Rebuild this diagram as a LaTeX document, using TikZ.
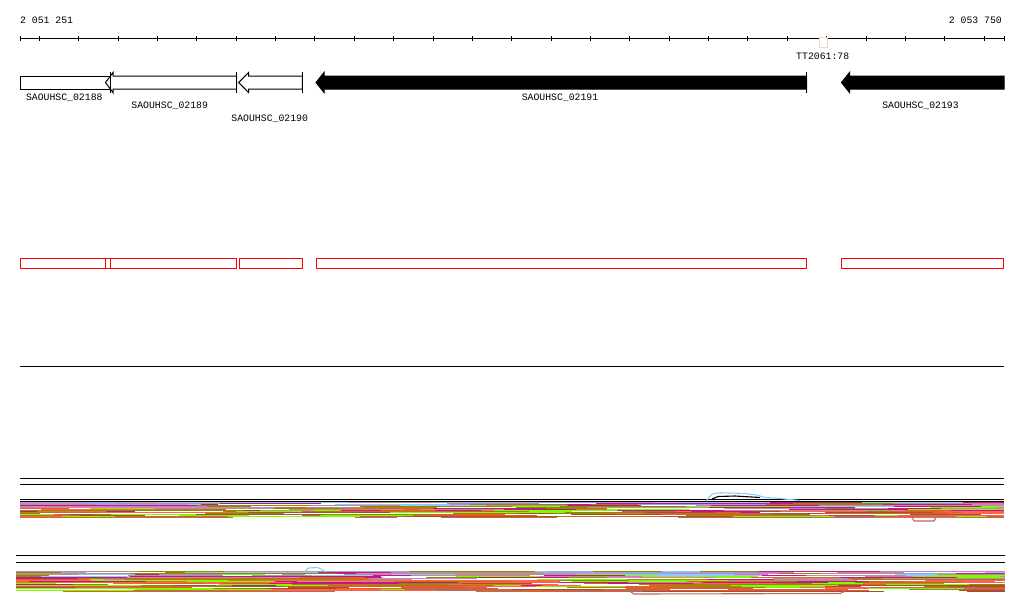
\documentclass[tikz,border=0pt]{standalone}
\usepackage{fontspec}
\newfontfamily\browserfont{Liberation Mono}
\usepackage{xcolor}
\usetikzlibrary{positioning}
\definecolor{rc1}{HTML}{A0A0E6}
\definecolor{rc2}{HTML}{87CEFA}
\definecolor{rc3}{HTML}{D080C0}
\definecolor{rc4}{HTML}{BC8F8F}
\definecolor{rc5}{HTML}{C71585}
\definecolor{rc6}{HTML}{8B8B00}
\definecolor{rc7}{HTML}{7CFC00}
\definecolor{rc8}{HTML}{D2691E}
\definecolor{rc9}{HTML}{FF6347}
\definecolor{rc10}{HTML}{A0522D}
\definecolor{rc11}{HTML}{E05A3A}
\definecolor{rc12}{HTML}{B86A5A}
\definecolor{markpink}{HTML}{F2D4CC}
\tikzset{
  lbl/.style={font=\browserfont\fontsize{9.8}{10}\selectfont, inner sep=0pt},
  axisline/.style={line width=1pt},
  genebox/.style={draw=black, line width=1pt, fill=#1},
  genebox/.default=white,
  startmark/.style={line width=1pt},
  cdsbox/.style={draw=red, line width=1pt},
  trackline/.style={line width=1pt},
  readseg/.style={line width=1.15pt},
}
\newcommand{\revgene}[4]{%
  \draw[genebox=#4] (#3,76) -- (#2,76) -- (#2,72.5) -- (#1,82.5)
    -- (#2,92.5) -- (#2,89) -- (#3,89) -- cycle;}
\newcommand{\readrow}[5]{%
  \xdef\rx{#2}%
  \loop
    \pgfmathrandominteger{\rlen}{12}{130}%
    \pgfmathrandominteger{\rcol}{#4}{#5}%
    \pgfmathrandominteger{\rgap}{1}{7}%
    \pgfmathsetmacro{\rnx}{min(\rx+\rlen,#3)}%
    \ifnum\rgap>1 \draw[readseg, color=rc\rcol] (\rx,#1) -- (\rnx,#1);\fi
    \xdef\rx{\rnx}%
  \ifdim\rx pt<#3pt\repeat}

\begin{document}
\begin{tikzpicture}[x=1pt, y=-1pt]
  \useasboundingbox (0,0) rectangle (1024,611);
  \pgfmathsetseed{7}

  % position ruler
  \node[lbl, anchor=west] (posleft) at (20,20) {2 051 251};
  \node[lbl, anchor=east] (posright) at (1002,20) {2 053 750};
  \draw[axisline] (20,38.3) -- (1004,38.3);
  \draw[axisline] (20,36) -- (20,40.7) (1004,36) -- (1004,40.7);
  \foreach \i in {0,...,24}
    \draw[axisline] (39.3+\i*39.37,36) -- ++(0,4.7);
  \draw[draw=markpink, fill=white, line width=1pt] (819.3,37.8) rectangle (827.7,47.7);
  \node[lbl] (ttsite) at (822.7,56) {TT2061:78};

  % genes
  \draw[genebox] (20,76) rectangle (110,89);
  \revgene{105.5}{113}{236.7}{white}
  \revgene{238.7}{248.5}{302.3}{white}
  \revgene{316}{324}{806.7}{black}
  \revgene{841.5}{849.5}{1004}{black}
  \foreach \x in {110,236.7,302.3,806.7}
    \draw[startmark] (\x,72) -- (\x,93);
  \node[lbl] (g02188) at (64.3,97.3) {SAOUHSC\_02188};
  \node[lbl] (g02189) at (169.7,106) {SAOUHSC\_02189};
  \node[lbl] (g02190) at (269.7,118.3) {SAOUHSC\_02190};
  \node[lbl] (g02191) at (560,97.3) {SAOUHSC\_02191};
  \node[lbl] (g02193) at (920.5,106) {SAOUHSC\_02193};

  % coding regions
  \foreach \a/\b in {20.3/110.3, 105.3/236.7, 239.3/302.3, 316.3/806.7, 841.3/1003.3}
    \draw[cdsbox] (\a,258.3) rectangle (\b,268.3);

  \draw[trackline] (20,366) -- (1004,366);

  % read tracks
  \foreach \y in {478.3,484.3,499.3,501}
    \draw[trackline] (20,\y) -- (1004,\y);
  \foreach \r in {0,...,15} {
    \pgfmathtruncatemacro{\rlo}{1+floor(\r*7/15)}
    \pgfmathtruncatemacro{\rhi}{min(\rlo+5,12)}
    \readrow{502.5+\r}{20}{1004}{\rlo}{\rhi}
  }
  \draw[rc2, line width=1.1pt] (706,501) -- (712,494) -- (720,492.7) -- (745,493.5)
    -- (757,495) -- (765,497.5) -- (775,498) -- (800,500.5);
  \draw[black, line width=1.1pt] (712,499) -- (718,496.5) -- (735,496) -- (760,497.5);
  \draw[rc12, line width=1.1pt] (912,517) -- (914,521) -- (934,521) -- (936,517);

  \foreach \y in {555.3,562.3}
    \draw[trackline] (16,\y) -- (1005,\y);
  \foreach \r in {0,...,20} {
    \pgfmathtruncatemacro{\rlo}{1+floor(\r*7/20)}
    \pgfmathtruncatemacro{\rhi}{min(\rlo+5,12)}
    \readrow{571.5+\r}{16}{1005}{\rlo}{\rhi}
  }
  \draw[rc2, line width=1.1pt] (305,572) -- (308,568) -- (318,567.5) -- (326,572);
  \draw[rc12, line width=1.1pt] (628,590) -- (634,594) -- (840,593.5) -- (847,590);
\end{tikzpicture}
\end{document}
